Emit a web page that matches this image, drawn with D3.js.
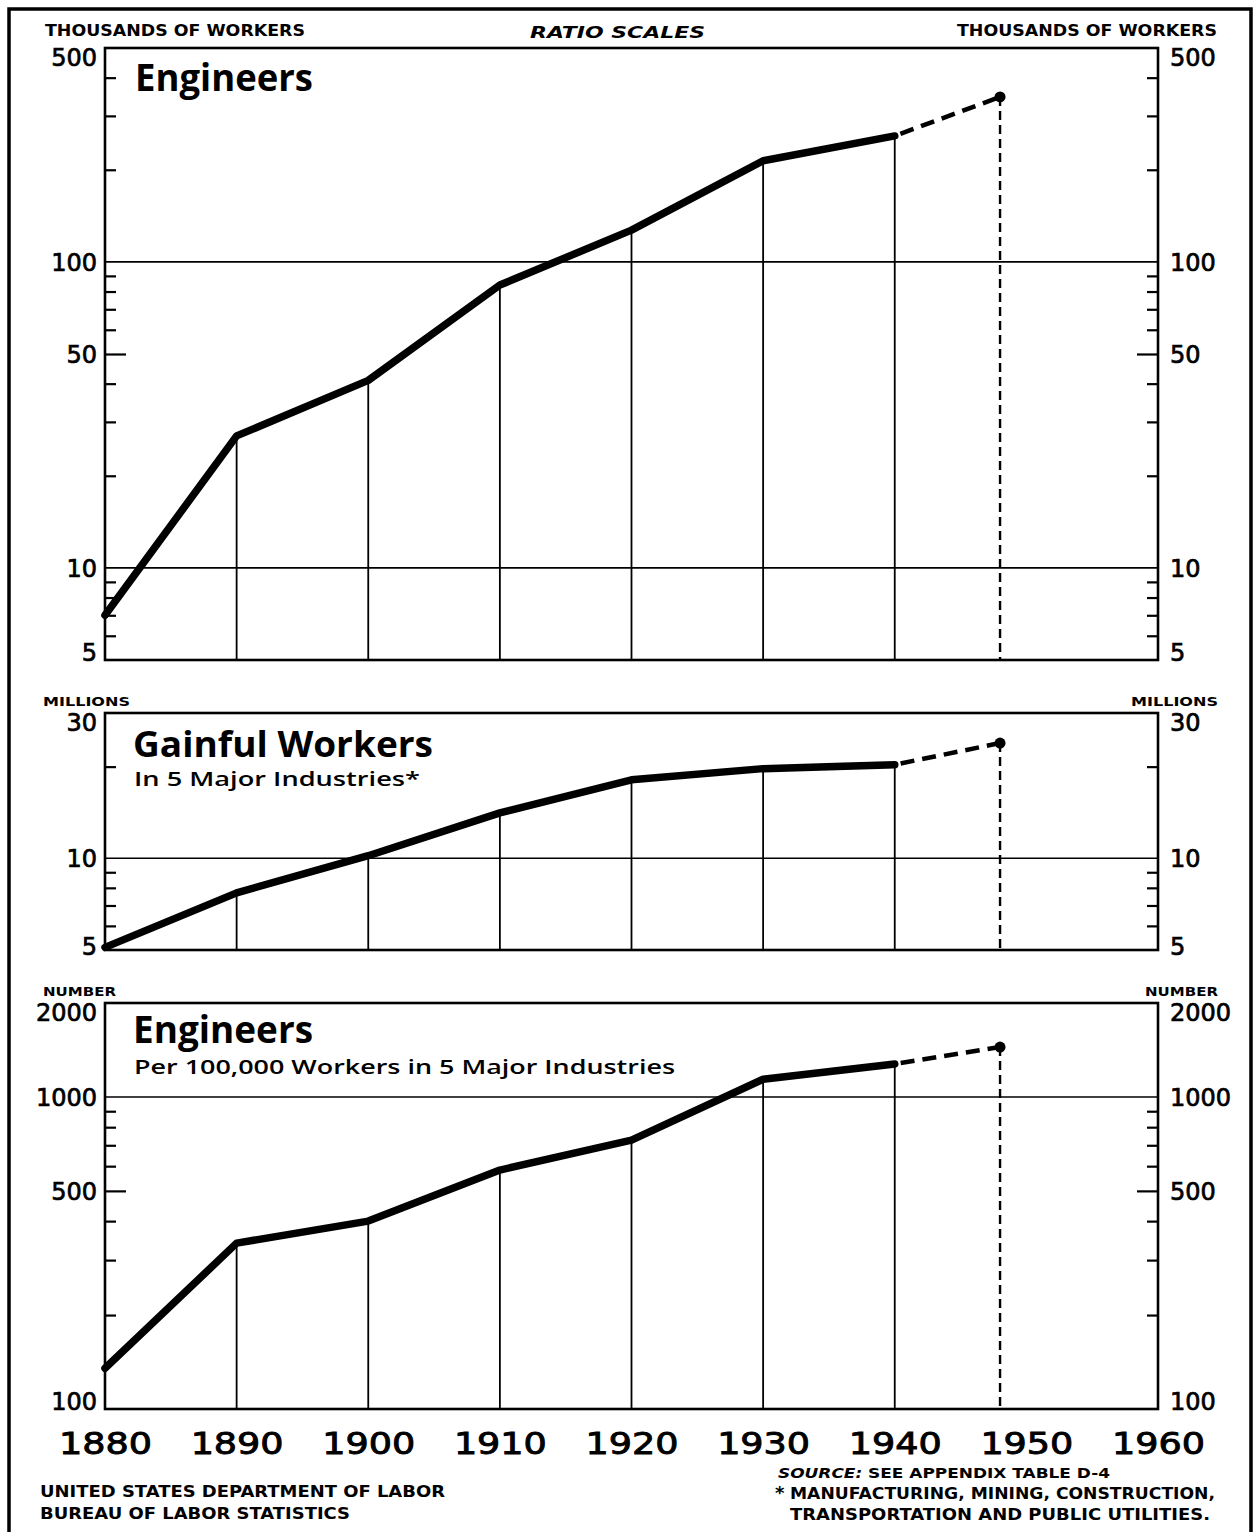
<!DOCTYPE html>
<html>
<head>
<meta charset="utf-8">
<script src="https://cdn.jsdelivr.net/npm/d3@7"></script>
<style>
  body { margin: 0; background: #fff; }
  svg { display: block; }
  text { fill: #000; }
</style>
</head>
<body>
<svg id="chart" width="1257" height="1532"></svg>
<script>
// Census years with reported counts, plus the later estimate year
const decades = [1880, 1890, 1900, 1910, 1920, 1930, 1940];
const estimateYear = 1948;
const yearTicks = [1880, 1890, 1900, 1910, 1920, 1930, 1940, 1950, 1960];

// Engineers, thousands of workers
const engineers = [7.0, 27, 41, 84, 127, 214, 258];
const engineersEstimate = 346;

// Gainful workers in 5 major industries, millions
const gainful = [5.1, 7.7, 10.2, 14.1, 18.1, 19.7, 20.3];
const gainfulEstimate = 23.9;

// Engineers per 100,000 workers in 5 major industries
const perHundredThousand = [135, 340, 400, 583, 727, 1140, 1276];
const perHundredThousandEstimate = 1445;

// Ratio-scale tick sets
const engLabels = [500, 100, 50, 10, 5];
const engMinor = [400, 300, 200, 90, 80, 70, 60, 40, 30, 20, 9, 8, 7, 6];
const engLong = [50];
const engGrid = [100, 10];

const gainLabels = [30, 10, 5];
const gainMinor = [20, 9, 8, 7, 6];
const gainLong = [];
const gainGrid = [10];

const ratioLabels = [2000, 1000, 500, 100];
const ratioMinor = [900, 800, 700, 600, 400, 300, 200];
const ratioLong = [500];
const ratioGrid = [1000];

const svg = d3.select("#chart");
const FONT = "'DejaVu Sans', 'Liberation Sans', sans-serif";
const TITLE_FONT = "'Open Sans', 'DejaVu Sans', sans-serif";

const X0 = 105, X1 = 1158;
const x = d3.scaleLinear().domain([1880, 1960]).range([X0, X1]);

// Outer border of the sheet
svg.append("path")
  .attr("d", `M9,1532 L9,9 L1251,9 L1251,1532`)
  .attr("fill", "none").attr("stroke", "#000").attr("stroke-width", 3.5);

function label(px, py, str, opts = {}) {
  const t = svg.append("text")
    .attr("x", px).attr("y", py)
    .attr("font-family", opts.family || FONT)
    .attr("font-size", opts.size || 15)
    .attr("font-weight", opts.weight || "bold")
    .attr("font-style", opts.style || "normal")
    .attr("text-anchor", opts.anchor || "start")
    .text(str);
  if (opts.len) t.attr("textLength", opts.len).attr("lengthAdjust", "spacingAndGlyphs");
  return t;
}

// Slightly heavier numerals for scale figures
function numerals(sel, size) {
  sel.attr("font-family", FONT).attr("font-size", size).attr("font-weight", "normal")
    .attr("fill", "#000").attr("stroke", "#000").attr("stroke-width", size > 26 ? 0.9 : 0.7);
}

function panel(cfg) {
  const y = d3.scaleLog().domain(cfg.domain).range([cfg.bottom, cfg.top]);
  const g = svg.append("g");

  // horizontal reference lines
  g.selectAll(".grid").data(cfg.grid).join("line")
    .attr("x1", X0).attr("x2", X1)
    .attr("y1", d => y(d)).attr("y2", d => y(d))
    .attr("stroke", "#000").attr("stroke-width", 1.6);

  // drop lines from each census point to the base
  g.selectAll(".drop").data(decades.slice(1).map((yr, i) => [yr, cfg.values[i + 1]])).join("line")
    .attr("x1", d => x(d[0])).attr("x2", d => x(d[0]))
    .attr("y1", d => y(d[1])).attr("y2", cfg.bottom)
    .attr("stroke", "#000").attr("stroke-width", 1.8);

  // dashed drop line for the estimate
  g.append("line")
    .attr("x1", x(estimateYear)).attr("x2", x(estimateYear))
    .attr("y1", y(cfg.estimate)).attr("y2", cfg.bottom)
    .attr("stroke", "#000").attr("stroke-width", 2.4)
    .attr("stroke-dasharray", "9,5");

  // reported series
  const line = d3.line().x(d => x(d[0])).y(d => y(d[1]));
  const pts = decades.map((yr, i) => [yr, cfg.values[i]]);
  g.append("path").datum(pts)
    .attr("d", line)
    .attr("fill", "none").attr("stroke", "#000")
    .attr("stroke-width", 7.5).attr("stroke-linejoin", "round").attr("stroke-linecap", "round");

  // projected segment
  const proj = [[1940, cfg.values[cfg.values.length - 1]], [estimateYear, cfg.estimate]];
  g.append("path").datum(proj)
    .attr("d", line)
    .attr("fill", "none").attr("stroke", "#000")
    .attr("stroke-width", 4.5).attr("stroke-dasharray", "14,8")
    .attr("stroke-dashoffset", -6);
  g.append("circle")
    .attr("cx", x(estimateYear)).attr("cy", y(cfg.estimate)).attr("r", 5.5)
    .attr("fill", "#000");

  // frame
  g.append("rect")
    .attr("x", X0).attr("y", cfg.top)
    .attr("width", X1 - X0).attr("height", cfg.bottom - cfg.top)
    .attr("fill", "none").attr("stroke", "#000").attr("stroke-width", 2.6);

  // ticks on both sides, pointing inward
  [d3.axisLeft, d3.axisRight].forEach(axisFn => {
    const pos = axisFn === d3.axisLeft ? X0 : X1;
    const minor = g.append("g").attr("transform", `translate(${pos},0)`)
      .call(axisFn(y).tickValues(cfg.minor).tickSize(-11).tickFormat(""));
    const major = g.append("g").attr("transform", `translate(${pos},0)`)
      .call(axisFn(y).tickValues(cfg.long).tickSize(-21).tickFormat(""));
    const labs = g.append("g").attr("transform", `translate(${pos},0)`)
      .call(axisFn(y).tickValues(cfg.labels).tickSize(0)
        .tickPadding(axisFn === d3.axisLeft ? 8 : 12).tickFormat(d3.format("d")));
    [minor, major, labs].forEach(a => {
      a.select(".domain").remove();
      a.selectAll("line").attr("stroke", "#000").attr("stroke-width", 2.2);
    });
    numerals(labs.selectAll("text"), 24);
    labs.selectAll("text")
      .attr("dy", d => d === cfg.domain[1] ? "0.74em" : d === cfg.domain[0] ? (cfg.bottomDy || "0em") : "0.36em");
  });

  return y;
}

// Panel 1: Engineers (thousands)
panel({ domain: [5, 500], top: 48, bottom: 660, values: engineers, estimate: engineersEstimate,
  labels: engLabels, minor: engMinor, long: engLong, grid: engGrid });
// Panel 2: Gainful workers (millions)
panel({ domain: [5, 30], top: 713, bottom: 950, values: gainful, estimate: gainfulEstimate,
  labels: gainLabels, minor: gainMinor, long: gainLong, grid: gainGrid, bottomDy: "0.2em" });
// Panel 3: Engineers per 100,000 workers
panel({ domain: [100, 2000], top: 1003, bottom: 1409, values: perHundredThousand, estimate: perHundredThousandEstimate,
  labels: ratioLabels, minor: ratioMinor, long: ratioLong, grid: ratioGrid });

// Year axis under the last panel
const xa = svg.append("g").attr("transform", "translate(0,1409)")
  .call(d3.axisBottom(x).tickValues(yearTicks).tickSize(0).tickPadding(24).tickFormat(d3.format("d")));
xa.select(".domain").remove();
numerals(xa.selectAll("text"), 30);
xa.selectAll("text").attr("textLength", 93).attr("lengthAdjust", "spacingAndGlyphs");

// Headings and units
label(45, 36, "THOUSANDS OF WORKERS", { size: 15, len: 260 });
label(530, 38, "RATIO SCALES", { size: 15, style: "italic", len: 175 });
label(957, 36, "THOUSANDS OF WORKERS", { size: 15, len: 260 });
label(43, 706, "MILLIONS", { size: 13, len: 87 });
label(1131, 706, "MILLIONS", { size: 13, len: 87 });
label(43, 996, "NUMBER", { size: 13, len: 73 });
label(1145, 996, "NUMBER", { size: 13, len: 73 });

// Panel titles
label(135, 91, "Engineers", { size: 38, family: TITLE_FONT, len: 178 });
label(133, 757, "Gainful  Workers", { size: 36, family: TITLE_FONT, len: 300 });
label(134, 786, "In 5 Major Industries*", { size: 20, weight: "600", family: TITLE_FONT, len: 286 });
label(133, 1043, "Engineers", { size: 38, family: TITLE_FONT, len: 180 });
label(134, 1074, "Per 100,000 Workers in 5 Major Industries", { size: 20, weight: "600", family: TITLE_FONT, len: 541 });

// Footer notes
label(40, 1497, "UNITED STATES DEPARTMENT OF LABOR", { size: 15, len: 405 });
label(40, 1519, "BUREAU OF LABOR STATISTICS", { size: 15, len: 310 });
const src = label(778, 1478, "", { size: 14, len: 332 });
src.append("tspan").attr("font-style", "italic").text("SOURCE:");
src.append("tspan").text(" SEE APPENDIX TABLE D-4");
label(775, 1499, "*", { size: 18 });
label(790, 1499, "MANUFACTURING, MINING, CONSTRUCTION,", { size: 15, len: 425 });
label(790, 1520, "TRANSPORTATION  AND  PUBLIC  UTILITIES.", { size: 15, len: 420 });
</script>
</body>
</html>
